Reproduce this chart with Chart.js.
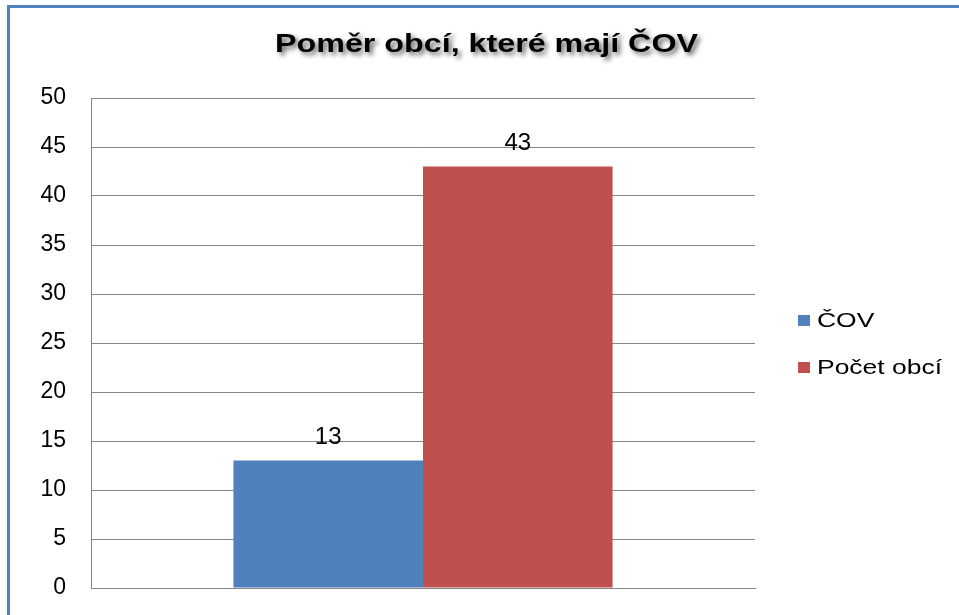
<!DOCTYPE html>
<html>
<head>
<meta charset="utf-8">
<script src="https://cdn.jsdelivr.net/npm/chart.js@4"></script>
<style>
  html, body { margin: 0; padding: 0; background: #fff; overflow: hidden; }
  #wrap { position: relative; width: 959px; height: 615px; }
  #frame { position: absolute; left: 7px; top: 5px; width: 990px; height: 700px;
           border-left: 3px solid #4F81BD; border-top: 3px solid #4F81BD; box-sizing: border-box; }
  canvas { position: absolute; left: 0; top: 0; }
  .leg { position: absolute; left: 798px; font: 21px 'Liberation Sans', Arial, sans-serif;
         color: #000; display: flex; align-items: center; white-space: nowrap; }
  .leg-sq { width: 12px; height: 11px; margin-right: 7px; }
  .leg-tx { display: inline-block; transform: scaleX(1.26); transform-origin: left center; }
</style>
</head>
<body>
<div id="wrap">
  <div id="frame"></div>
  <canvas id="c" width="959" height="615"></canvas>
  <div id="legend"></div>
</div>
<script>
const title      = 'Poměr obcí, které mají ČOV';
const categories = [''];
const seriesNames  = ['ČOV', 'Počet obcí'];
const seriesValues = [[13], [43]];
const seriesColors = ['#4F81BD', '#C0504D'];
const yTicks     = [0, 5, 10, 15, 20, 25, 30, 35, 40, 45, 50];

const FONT = "'Liberation Sans', Arial, sans-serif";

const datasets = seriesNames.map((name, i) => ({
  label: name,
  data: seriesValues[i],
  backgroundColor: seriesColors[i],
  borderWidth: 0,
  categoryPercentage: 0.571,
  barPercentage: 1.0,
}));

// Legend (HTML)
const legendTop = [308, 355];
document.getElementById('legend').innerHTML = datasets.map((ds, i) =>
  `<div class="leg" style="top:${legendTop[i]}px">
     <div class="leg-sq" style="background:${ds.backgroundColor}"></div><span class="leg-tx">${ds.label}</span>
   </div>`).join('');

// value labels above bars
const valueLabels = {
  id: 'valueLabels',
  afterDatasetsDraw(chart) {
    const ctx = chart.ctx;
    ctx.save();
    ctx.font = '24px ' + FONT;
    ctx.fillStyle = '#000';
    ctx.textAlign = 'center';
    ctx.textBaseline = 'alphabetic';
    chart.data.datasets.forEach((ds, di) => {
      chart.getDatasetMeta(di).data.forEach((bar, j) => {
        ctx.fillText(String(ds.data[j]), bar.x, bar.y - 17);
      });
    });
    ctx.restore();
  }
};

// title with soft shadow, slightly stretched like the original
const shadowTitle = {
  id: 'shadowTitle',
  afterDraw(chart) {
    const ctx = chart.ctx;
    ctx.save();
    ctx.font = 'bold 26px ' + FONT;
    ctx.textAlign = 'center';
    ctx.textBaseline = 'alphabetic';
    const w = ctx.measureText(title).width;
    const sx = 423 / w;
    ctx.translate(486.5, 52);
    ctx.scale(sx, 1);
    ctx.shadowColor = 'rgba(0,0,0,0.6)';
    ctx.shadowBlur = 5;
    ctx.shadowOffsetX = 3;
    ctx.shadowOffsetY = 3;
    ctx.fillStyle = '#000';
    ctx.fillText(title, 0, 0);
    ctx.restore();
  }
};

new Chart(document.getElementById('c'), {
  type: 'bar',
  data: { labels: categories, datasets },
  options: {
    responsive: false, animation: false,
    layout: { padding: { left: 0, top: 98, right: 204, bottom: 27 } },
    plugins: { legend: { display: false }, tooltip: { enabled: false } },
    scales: {
      x: {
        grid: { display: false, drawTicks: false },
        border: { display: true, color: '#868686', width: 1 },
        ticks: { display: false },
        afterFit: s => { s.height = 0; },
      },
      y: {
        min: 0, max: 50,
        afterBuildTicks: s => { s.ticks = yTicks.map(v => ({ value: v })); },
        grid: { color: '#868686', lineWidth: 1, drawTicks: false },
        border: { display: true, color: '#868686', width: 1 },
        ticks: { padding: 25, color: '#000', font: { family: FONT, size: 23 } },
        // fixed width; labels may overhang the plot vertically
        afterFit: s => { s.width = 91; s.paddingTop = 0; s.paddingBottom = 0; },
      }
    }
  },
  plugins: [valueLabels, shadowTitle]
});
</script>
</body>
</html>
